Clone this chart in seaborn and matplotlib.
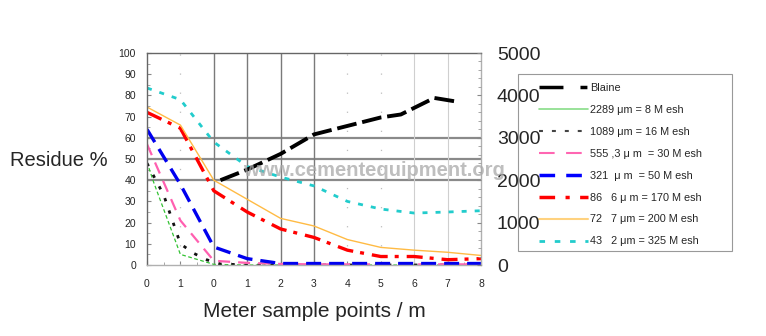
import matplotlib
matplotlib.use("Agg")
import matplotlib.pyplot as plt
from matplotlib.lines import Line2D
from matplotlib.patches import Rectangle
from matplotlib.ticker import MultipleLocator
import seaborn as sns

sns.set_style("white")
plt.rcParams['font.family'] = ['Liberation Sans', 'DejaVu Sans']

# ---------------- data ----------------
positions = list(range(11))
tick_labels = ["0", "1", "0", "1", "2", "3", "4", "5", "6", "7", "8"]

series_labels = [
    "Blaine",
    "2289 \u03bcm = 8 M esh",
    "1089 \u03bcm = 16 M esh",
    "555 ,3 \u03bc m  = 30 M esh",
    "321  \u03bc m  = 50 M esh",
    "86   6 \u03bc m = 170 M esh",
    "72   7 \u03bcm = 200 M esh",
    "43   2 \u03bcm = 325 M esh",
]

x_m8 = [0, 0.2, 1, 2, 3, 4, 5, 6, 7, 8, 9, 10]
res_m8 = [48.5, 39, 5, 0.3, 0, 0, 0, 0, 0, 0, 0, 0]

x_m16 = [0, 0.5, 1, 1.4, 1.8, 2.2, 3, 4, 5, 6, 7, 8, 9, 10]
res_m16 = [48, 33, 10, 5.5, 2.4, 0.5, 0, 0, 0, 0, 0, 0, 0, 0]

res_m30 = [57, 21, 2, 1, 0.5, 0.3, 0.3, 0.3, 0.3, 0.3, 0.3]
res_m50 = [64, 38, 8.5, 3, 0.7, 0.7, 0.7, 0.7, 0.7, 0.7, 0.7]
res_m170 = [72, 64.5, 35, 25, 17, 13, 7, 4, 4, 2.5, 3]
res_m200 = [74.5, 66, 40, 31, 22, 18.4, 12, 8.3, 7, 6, 4.5]
res_m325 = [83.5, 78, 58, 46.5, 41.5, 37.3, 30, 26.4, 24.5, 25, 25.6]

blaine_x = [2.2, 3, 4, 5, 6, 7, 7.6, 8.6, 9.3]
blaine = [2000, 2250, 2620, 3080, 3280, 3480, 3550, 3940, 3850]

# ---------------- figure ----------------
W, H = 766, 336
fig = plt.figure(figsize=(W / 100, H / 100), dpi=100)
L, R, T, B = 147, 481, 53, 265
ax = fig.add_axes([L / W, 1 - B / H, (R - L) / W, (B - T) / H])
ax.set_xlim(0, 10)
ax.set_ylim(0, 100)

# grid-like reference lines
for yv in [40, 50, 60]:
    ax.axhline(yv, color="#8a8a8a", lw=1.6, zorder=1)
for xv in [2, 3, 4, 5]:
    ax.axvline(xv, color="#7a7a7a", lw=1.0, zorder=1)
for xv in [8, 9]:
    ax.axvline(xv, color="#cfcfcf", lw=0.8, zorder=1)
for xv in [1, 6, 7]:
    ax.axvline(xv, color="#bdbdbd", lw=0.9, linestyle=(0, (1, 14.26)), zorder=1)

def draw(x, y, color, lw, ls, axis):
    sns.lineplot(x=x, y=y, ax=axis, color=color, lw=lw, estimator=None,
                 sort=False, legend=False)
    axis.lines[-1].set_linestyle(ls)

draw(x_m8, res_m8, "#33c233", 0.9, (0, (3, 2)), ax)
draw(x_m16, res_m16, "#111111", 2.0, (0, (1.2, 3.5)), ax)
draw(positions, res_m30, "#ff5fb0", 1.6, (0, (5.4, 3.6)), ax)
draw(positions, res_m50, "#0000ee", 2.4, (0, (4.5, 2.4)), ax)
draw(positions, res_m170, "#ff0000", 2.4, (0, (4.8, 2.1, 1.2, 2.4)), ax)
draw(positions, res_m200, "#ffbb44", 1.0, "-", ax)
draw(positions, res_m325, "#22cccc", 2.0, (0, (1.8, 2.9)), ax)

ax2 = ax.twinx()
ax2.set_ylim(0, 5000)
draw(blaine_x, blaine, "#000000", 2.8, (0, (5.1, 1.5)), ax2)
ax2.set_xlim(0, 10)

# ticks
ax.set_xticks(positions)
ax.set_xticklabels(tick_labels)
ax.set_yticks(range(0, 101, 10))
ax.xaxis.set_minor_locator(MultipleLocator(0.5))
ax.yaxis.set_minor_locator(MultipleLocator(5))
ax.tick_params(axis="both", which="major", direction="in", length=3,
               width=0.8, color="#888888", labelsize=7.5)
ax.tick_params(axis="both", which="minor", direction="in", length=2,
               width=0.6, color="#999999")
ax.tick_params(axis="x", which="major", pad=10, bottom=True)
ax.tick_params(axis="x", which="minor", bottom=True)
ax.tick_params(axis="y", which="major", pad=8, left=True)
ax.tick_params(axis="y", which="minor", left=True)

ax2.set_yticks(range(0, 5001, 1000))
ax2.yaxis.set_minor_locator(MultipleLocator(200))
ax2.tick_params(axis="y", which="major", direction="in", length=3,
                width=0.8, color="#888888", labelsize=14, pad=11.5, right=True)
ax2.tick_params(axis="y", which="minor", direction="in", length=2,
                width=0.6, color="#999999", right=True)
for s in ax2.spines.values():
    s.set_visible(False)

for side, col in [("left", "#666666"), ("top", "#666666"),
                  ("right", "#b0b0b0"), ("bottom", "#b0b0b0")]:
    ax.spines[side].set_visible(True)
    ax.spines[side].set_color(col)
    ax.spines[side].set_linewidth(1.0)

# axis labels
ax.set_ylabel("Residue %", rotation=0, fontsize=14.5, ha="left", va="center")
ax.yaxis.set_label_coords((10 - L) / (R - L), (B - 160) / (B - T))
ax.set_xlabel("Meter sample points / m", fontsize=15, va="center")
ax.xaxis.set_label_coords(0.5, (B - 311.7) / (B - T))

# legend box + legend
rect = Rectangle((518 / W, 1 - 251 / H), 214 / W, 177 / H,
                 transform=fig.transFigure, facecolor="white",
                 edgecolor="#999999", lw=0.8, clip_on=False, zorder=4)
ax.add_artist(rect)

handles = [
    Line2D([], [], color="black", lw=2.5, linestyle=(0, (6.9, 4.9, 2.0, 10))),
    Line2D([], [], color="#88dd88", lw=1.2, linestyle="-"),
    Line2D([], [], color="#444444", lw=1.5, linestyle=(0, (1.9, 4.3))),
    Line2D([], [], color="#ff66b2", lw=1.5, linestyle=(0, (7.5, 5.5))),
    Line2D([], [], color="#0000ff", lw=2.5, linestyle=(0, (4.5, 3.2))),
    Line2D([], [], color="#ff0000", lw=2.5, linestyle=(0, (4.5, 3, 1.2, 3))),
    Line2D([], [], color="#ffd27f", lw=1.5, linestyle="-"),
    Line2D([], [], color="#22cccc", lw=2.0, linestyle=(0, (2, 3.5))),
]
leg = ax.legend(handles=handles, labels=series_labels, loc="upper left",
                bbox_to_anchor=(539 / W, 1 - 83 / H),
                bbox_transform=fig.transFigure, frameon=False, borderpad=0,
                borderaxespad=0, handlelength=4.5, handletextpad=0.2,
                labelspacing=1.1, fontsize=7.8)
leg.set_zorder(5)

# watermark
fig.text(243 / W, 1 - 170 / H, "www.cementequipment.org", fontsize=14.5,
         fontweight="bold", color="#a8a8a8", alpha=0.75, ha="left",
         va="center", zorder=10)

fig.savefig("out.png", dpi=100)
